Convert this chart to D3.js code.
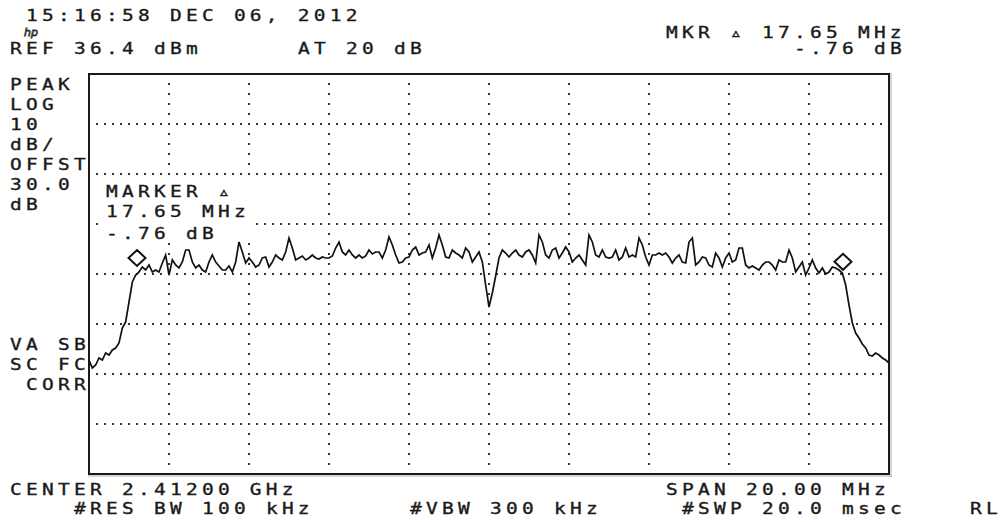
<!DOCTYPE html>
<html><head><meta charset="utf-8">
<script src="https://cdn.jsdelivr.net/npm/d3@7"></script>
<style>
html,body{margin:0;padding:0;background:#fff;}
svg{display:block;}
text{font-family:"DejaVu Sans Mono","Liberation Mono",monospace;font-size:16px;fill:#1a1a1a;}
</style></head><body>
<svg id="chart" width="1001" height="522"></svg>
<script>
// Sweep settings
const startMHz = 2402;
const stopMHz = 2422;
const refLevelDbm = 36.4;
const dbPerDiv = 10;
const divisionsY = 8;

// Trace levels (dBm), one per sweep point, left to right
const levels = [
  -20.8,-22.4,-21.8,-20.4,-20.8,-19.4,-19.8,-18.8,-18.4,-17.4,
  -14.4,-13.2,-9.2,-5.2,-3.8,-3.2,-2.2,-2.8,-1.8,-3.2,
  -2.8,-3.2,-1.4,0.2,-3.8,-0.8,-1.8,-2.4,-1.2,1.2,
  1.2,-1.2,-2.4,-1.8,-2.8,-3.2,-1.2,0.2,-1.2,-2.0,
  -2.8,-2.8,-2.0,-3.2,-1.2,2.8,0.8,-1.4,-0.4,-1.2,
  -2.2,-1.8,-0.4,-0.2,-2.2,-1.2,0.2,-0.4,-0.8,0.8,
  3.6,1.6,-0.8,-0.4,0.0,-0.8,-0.4,0.2,-0.4,-0.6,
  -0.2,-0.4,-0.4,0.0,1.6,2.8,0.8,0.2,1.2,0.2,
  -0.4,0.2,-0.4,0.0,1.2,0.4,0.8,0.8,-0.4,1.2,
  3.8,2.2,0.2,-1.4,-1.2,-0.4,-0.2,1.2,1.8,0.2,
  0.6,0.8,2.2,-0.4,1.6,4.2,2.2,-0.2,-0.4,1.2,
  0.6,0.2,-0.4,1.6,0.8,-1.2,-0.2,0.8,-1.2,-5.8,
  -10.2,-7.4,-4.0,-0.4,1.2,0.6,-0.2,0.6,1.2,0.2,
  -0.2,0.8,1.2,0.2,-1.4,4.2,2.8,0.2,-0.4,1.2,
  1.6,-0.4,0.6,1.8,0.8,-1.2,-0.4,0.2,-0.8,-1.8,
  4.2,2.8,0.2,-0.2,1.2,-0.2,-0.4,-0.2,1.2,-0.8,
  -0.2,1.6,-0.2,0.2,-0.2,3.6,2.2,-0.2,-1.8,0.2,
  0.2,0.6,0.2,0.6,-0.2,-1.4,-0.4,0.2,-1.2,-1.4,
  2.8,3.6,-1.8,-1.2,-0.2,-0.4,-1.8,-2.2,0.6,-0.4,
  -2.2,-0.4,0.6,-1.2,-0.8,1.6,1.6,-1.8,-2.4,-2.0,
  -2.4,-2.8,-1.8,-1.2,-1.2,-1.8,-2.8,-0.8,-1.2,-1.2,
  1.2,-0.4,-3.2,-2.2,-1.2,-3.8,-2.4,-0.8,-2.4,-3.4,
  -2.4,-3.6,-3.2,-2.2,-2.4,-2.8,-3.4,-5.8,-9.8,-13.4,
  -15.4,-16.4,-17.6,-18.4,-19.8,-20.0,-19.4,-19.8,-20.4,-20.8,
  -21.4
];

// Graticule divisions
const freqGridMHz = [2404, 2406, 2408, 2410, 2412, 2414, 2416, 2418, 2420];
const levelGridDbm = [26.4, 16.4, 6.4, -3.6, -13.6, -23.6, -33.6];

// Reference marker and delta marker
const markerRef = { freq: 2403.2, level: -0.4 };
const markerDelta = { freq: 17.65, level: -0.76 };

// Annotation lines: [text, column, baseline]
const annotations = [
  ["15:16:58 DEC 06, 2012", 1, 21],
  ["REF 36.4 dBm", 0, 54],
  ["AT 20 dB", 18, 54],
  ["PEAK", 0, 90], ["LOG", 0, 110], ["10", 0, 130], ["dB/", 0, 150],
  ["OFFST", 0, 170], ["30.0", 0, 190], ["dB", 0, 210],
  ["VA SB", 0, 350], ["SC FC", 0, 370], ["CORR", 1, 390],
  ["CENTER 2.41200 GHz", 0, 495],
  ["#RES BW 100 kHz", 4, 514],
  ["#VBW 300 kHz", 25, 514],
  ["SPAN 20.00 MHz", 41, 495],
  ["#SWP 20.0 msec", 42, 514],
  ["RL", 60, 514]
];

const plot = { left: 89, top: 74, width: 800, height: 400 };
const cellW = 16, textLeft = 10, glyphStretch = 1.22;
const colX = c => textLeft + c * cellW;

const svg = d3.select("#chart");
const x = d3.scaleLinear().domain([startMHz, stopMHz]).range([plot.left, plot.left + plot.width]);
const y = d3.scaleLinear().domain([refLevelDbm - dbPerDiv * divisionsY, refLevelDbm])
  .range([plot.top + plot.height, plot.top]);

// Dotted graticule
const gDots = svg.append("g").attr("fill", "#333");
levelGridDbm.forEach(lv => {
  const yy = Math.round(y(lv));
  const xs = d3.range(plot.left + 8, plot.left + plot.width - 2, 8);
  gDots.selectAll(null).data(xs).join("rect")
    .attr("x", d => d - 1).attr("y", yy - 1).attr("width", 2).attr("height", 2);
});
freqGridMHz.forEach(f => {
  const xx = Math.round(x(f));
  const ys = d3.range(plot.top + 10, plot.top + plot.height - 2, 10);
  gDots.selectAll(null).data(ys).join("rect")
    .attr("x", xx - 1).attr("y", d => d - 1).attr("width", 2).attr("height", 2);
});

// Frame
svg.append("line").attr("x1", plot.left + plot.width + 2).attr("x2", plot.left + plot.width + 2)
  .attr("y1", plot.top - 1).attr("y2", plot.top + plot.height + 3).attr("stroke", "#aaa").attr("stroke-width", 1);
svg.append("line").attr("x1", plot.left - 1).attr("x2", plot.left + plot.width + 3)
  .attr("y1", plot.top + plot.height + 2).attr("y2", plot.top + plot.height + 2).attr("stroke", "#aaa").attr("stroke-width", 1);
svg.append("rect").attr("x", plot.left).attr("y", plot.top)
  .attr("width", plot.width).attr("height", plot.height)
  .attr("fill", "none").attr("stroke", "#1a1a1a").attr("stroke-width", 2);

// Instrument-style number formats: no leading zero before the decimal point
const fmtDb = v => (v < 0 ? "-" : "") + Math.abs(v).toFixed(2).replace(/^0\./, ".");
const fmtMHz = v => v.toFixed(2);

// Marker readout block inside the graticule
svg.append("rect").attr("x", 102).attr("y", 180).attr("width", 152).attr("height", 63).attr("fill", "#fff");
const tri = "\u25B5";
const readout = [
  ["MARKER " + tri, 6, 197],
  [fmtMHz(markerDelta.freq) + " MHz", 6, 217],
  [fmtDb(markerDelta.level) + " dB", 6, 239]
];
const topRight = [
  ["MKR " + tri + " " + fmtMHz(markerDelta.freq) + " MHz", 41, 38],
  [fmtDb(markerDelta.level) + " dB", 49, 54]
];

// Wide fixed-pitch lettering: glyphs stretched horizontally, one cell per character
const advance = cellW / glyphStretch;
svg.append("g").selectAll("text").data(annotations.concat(readout, topRight)).join("text")
  .attr("transform", d => `translate(${colX(d[1])},${d[2]}) scale(${glyphStretch},1)`)
  .style("letter-spacing", (advance - 9.63) + "px")
  .style("stroke", "#1a1a1a").style("stroke-width", 0.35)
  .text(d => d[0]);

// hp logo
svg.append("text").attr("x", 24).attr("y", 36)
  .style("font-family", "DejaVu Sans").style("font-style", "italic").style("font-size", "11px")
  .style("fill", "none").style("stroke", "#222").style("stroke-width", 0.8)
  .text("hp");

// Trace
const n = levels.length;
const freqAt = i => startMHz + (stopMHz - startMHz) * i / (n - 1);
const line = d3.line().x((d, i) => x(freqAt(i))).y(d => y(d)).curve(d3.curveLinear);
svg.append("path").datum(levels).attr("d", line)
  .attr("fill", "none").attr("stroke", "#111").attr("stroke-width", 1.7).attr("stroke-linejoin", "miter");

// Marker diamonds
const markers = [
  markerRef,
  { freq: markerRef.freq + markerDelta.freq, level: markerRef.level + markerDelta.level }
];
svg.append("g").selectAll("path").data(markers).join("path")
  .attr("transform", d => `translate(${x(d.freq)},${y(d.level)})`)
  .attr("d", "M0,-8L8.5,0L0,8L-8.5,0Z")
  .attr("fill", "none").attr("stroke", "#111").attr("stroke-width", 2);
</script>
</body></html>
